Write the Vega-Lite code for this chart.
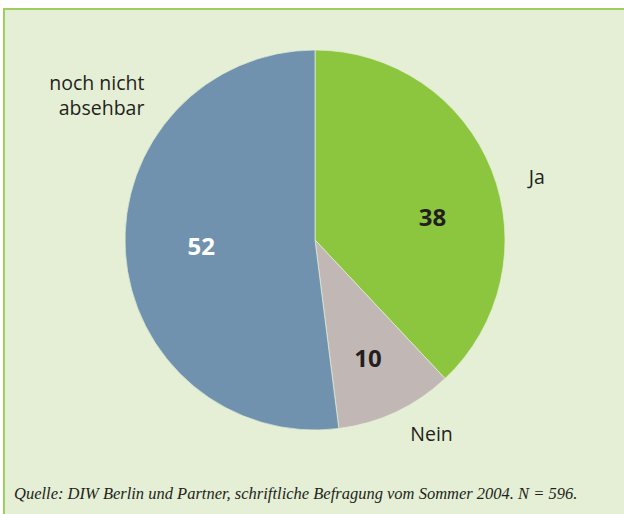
{
  "$schema": "https://vega.github.io/schema/vega-lite/v6.json",
  "width": 622,
  "height": 507,
  "autosize": {"type": "none"},
  "padding": {"left": 4, "top": 9, "right": -2, "bottom": -2},
  "background": "#ffffff",
  "view": {"fill": "#e5efd5", "stroke": "#9dcf5c", "strokeWidth": 2},
  "config": {
    "text": {"font": "Open Sans"}
  },
  "title": {
    "text": "Quelle: DIW Berlin und Partner, schriftliche Befragung vom Sommer 2004. N = 596.",
    "orient": "bottom",
    "anchor": "start",
    "frame": "group",
    "offset": -30,
    "dx": 10,
    "font": "Liberation Serif",
    "fontStyle": "italic",
    "fontWeight": "normal",
    "fontSize": 16.5,
    "color": "#231f20"
  },
  "data": {
    "values": [
      {"cat": "Ja", "value": 38, "label": "Ja"},
      {"cat": "Nein", "value": 10, "label": "Nein"},
      {"cat": "noch nicht absehbar", "value": 52, "label": "noch nicht\nabsehbar"}
    ]
  },
  "encoding": {
    "theta": {"field": "value", "type": "quantitative", "stack": true},
    "detail": {"field": "cat", "type": "nominal"},
    "order": {"field": "cat", "type": "ordinal"}
  },
  "layer": [
    {
      "mark": {
        "type": "arc",
        "outerRadius": 190,
        "x": {"expr": "width/2"},
        "y": {"expr": "height/2 - 22.5"},
        "stroke": "#e5efd5",
        "strokeWidth": 0.7
      },
      "encoding": {
        "color": {
          "field": "cat",
          "type": "nominal",
          "scale": {
            "domain": ["Ja", "Nein", "noch nicht absehbar"],
            "range": ["#8cc63f", "#c1b8b5", "#7092ae"]
          },
          "legend": null
        }
      }
    },
    {
      "mark": {
        "type": "text",
        "radius": 120,
        "x": {"expr": "width/2"},
        "y": {"expr": "height/2 - 22.5"},
        "fontSize": 24,
        "fontWeight": "bold",
        "baseline": "middle",
        "align": "center",
        "dx": {"expr": "datum.cat == 'Ja' ? 6 : (datum.cat == 'Nein' ? 2 : 6)"},
        "dy": {"expr": "datum.cat == 'Ja' ? 23 : (datum.cat == 'Nein' ? 11 : 0)"}
      },
      "encoding": {
        "text": {"field": "value", "type": "quantitative"},
        "color": {
          "condition": {"test": "datum.cat == 'noch nicht absehbar'", "value": "#ffffff"},
          "value": "#231f20"
        }
      }
    },
    {
      "mark": {
        "type": "text",
        "radius": 215,
        "x": {"expr": "width/2"},
        "y": {"expr": "height/2 - 22.5"},
        "fontSize": 19.5,
        "lineBreak": "\n",
        "lineHeight": 25,
        "baseline": "middle",
        "color": "#231f20",
        "align": {"expr": "datum.cat == 'noch nicht absehbar' ? 'right' : 'center'"},
        "dx": {"expr": "datum.cat == 'Ja' ? 22 : (datum.cat == 'Nein' ? 25 : 44)"},
        "dy": {"expr": "datum.cat == 'Ja' ? 17 : (datum.cat == 'Nein' ? 0 : -169)"}
      },
      "encoding": {
        "text": {"field": "label", "type": "nominal"}
      }
    }
  ]
}
